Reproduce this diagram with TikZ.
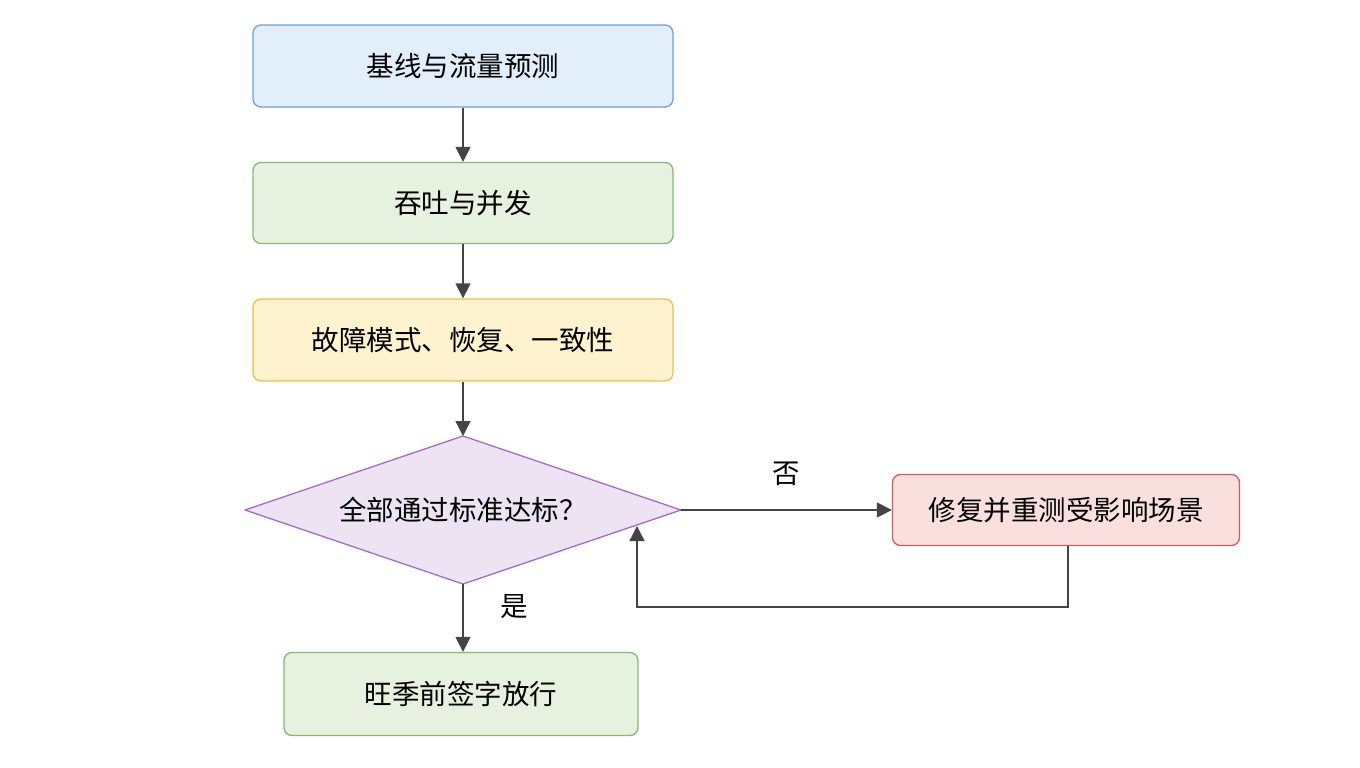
\documentclass[tikz,border=0pt]{standalone}
\usepackage{fontspec}
\setmainfont{Noto Sans CJK SC}
\usetikzlibrary{shapes.geometric,arrows.meta}
\definecolor{bF}{HTML}{E3EEFB}\definecolor{bD}{HTML}{6A9FE0}
\definecolor{gF}{HTML}{E6F1E0}\definecolor{gD}{HTML}{86B872}
\definecolor{yF}{HTML}{FFF3CF}\definecolor{yD}{HTML}{E8C04A}
\definecolor{pF}{HTML}{EDE3F3}\definecolor{pD}{HTML}{A56BC8}
\definecolor{rF}{HTML}{F9E0DF}\definecolor{rD}{HTML}{CF5B5B}
\definecolor{ar}{HTML}{444444}
\begin{document}
\begin{tikzpicture}[x=1pt,y=-1pt,
 box/.style={rounded corners=8pt,line width=1.3pt,font=\fontsize{27.5}{30}\selectfont,inner sep=0pt},
 arr/.style={-{Triangle[length=15pt,width=15pt]},ar,line width=1.4pt},
 lab/.style={font=\fontsize{27.5}{30}\selectfont}]
\useasboundingbox (0,0) rectangle (1360,768);
\node[box,fill=bF,draw=bD,minimum width=420pt,minimum height=82pt] (a) at (463,66) {基线与流量预测};
\node[box,fill=gF,draw=gD,minimum width=420pt,minimum height=81pt] (b) at (463,203) {吞吐与并发};
\node[box,fill=yF,draw=yD,minimum width=420pt,minimum height=82pt] (c) at (463,340) {故障模式、恢复、一致性};
\draw[fill=pF,draw=pD,line width=1.3pt,line join=round] (245,510) -- (463,436) -- (681,510) -- (463,584) -- cycle;
\coordinate (dN) at (463,436);
\coordinate (dE) at (681,510);
\coordinate (dS) at (463,584);
\node[font=\fontsize{27.5}{30}\selectfont] (d) at (463,510) {全部通过标准达标？};
\node[box,fill=rF,draw=rD,minimum width=347pt,minimum height=71pt] (r) at (1066,510) {修复并重测受影响场景};
\node[box,fill=gF,draw=gD,minimum width=354pt,minimum height=83pt] (e) at (461,694) {旺季前签字放行};
\draw[arr] (a) -- (b);
\draw[arr] (b) -- (c);
\draw[arr] (c) -- (dN);
\draw[arr] (dE) -- (r);
\draw[arr] (dS) -- (dS |- e.north);
\coordinate (t) at (637,526);
\draw[arr] (r.south -| 1068,0) -- (1068,607) -- (637,607) -- (t);
\node[lab] (no) at (786,474) {否};
\node[lab] (yes) at (514,607) {是};
\end{tikzpicture}
\end{document}
